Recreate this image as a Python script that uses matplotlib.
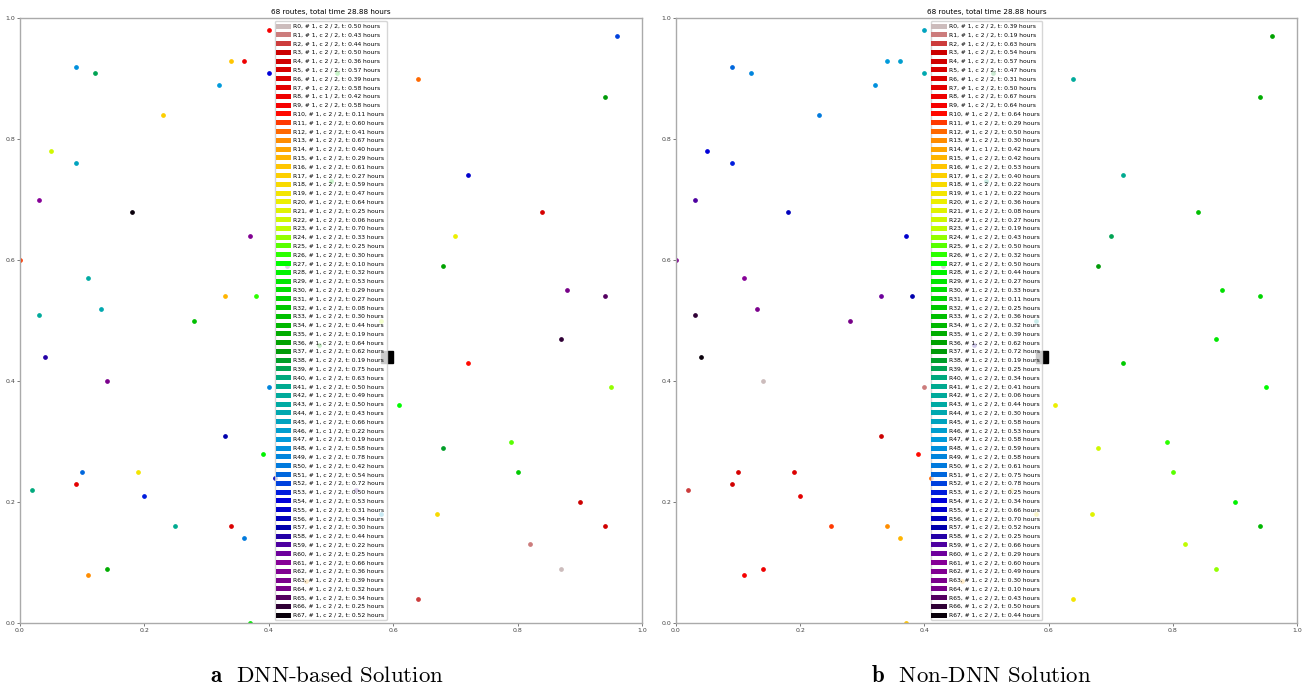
import numpy as np
import matplotlib
matplotlib.use("Agg")
import matplotlib.pyplot as plt
from matplotlib.lines import Line2D

# customer locations (same instance in both solutions)
cust_x = [0.40, 0.09, 0.12, 0.34, 0.36, 0.40, 0.32, 0.23, 0.05, 0.09,
          0.03, 0.18, 0.37, 0.00, 0.11, 0.33, 0.38, 0.03, 0.13, 0.28,
          0.04, 0.14, 0.40, 0.33, 0.39, 0.41, 0.10, 0.19, 0.09, 0.02,
          0.20, 0.25, 0.34, 0.36, 0.14, 0.11, 0.37, 0.51, 0.50, 0.43,
          0.58, 0.48, 0.54, 0.58, 0.46, 0.96, 0.64, 0.94, 0.72, 0.84,
          0.70, 0.68, 0.88, 0.94, 0.87, 0.72, 0.95, 0.61, 0.68, 0.79,
          0.80, 0.90, 0.94, 0.67, 0.82, 0.87, 0.64]
cust_y = [0.98, 0.92, 0.91, 0.93, 0.93, 0.91, 0.89, 0.84, 0.78, 0.76,
          0.70, 0.68, 0.64, 0.60, 0.57, 0.54, 0.54, 0.51, 0.52, 0.50,
          0.44, 0.40, 0.39, 0.31, 0.28, 0.24, 0.25, 0.25, 0.23, 0.22,
          0.21, 0.16, 0.16, 0.14, 0.09, 0.08, 0.00, 0.91, 0.73, 0.59,
          0.50, 0.46, 0.22, 0.18, 0.07, 0.97, 0.90, 0.87, 0.74, 0.68,
          0.64, 0.59, 0.55, 0.54, 0.47, 0.43, 0.39, 0.36, 0.29, 0.30,
          0.25, 0.20, 0.16, 0.18, 0.13, 0.09, 0.04]
depot = (0.59, 0.44)

# route index of every customer
route_dnn = [9, 48, 39, 16, 8, 54, 47, 17, 22, 45,
             61, 67, 62, 11, 43, 15, 26, 42, 44, 33,
             58, 63, 49, 57, 28, 56, 51, 19, 7, 40,
             53, 41, 6, 50, 35, 13, 29, 30, 31, 60,
             23, 34, 59, 46, 14, 52, 12, 37, 55, 5,
             20, 36, 64, 65, 66, 10, 24, 27, 38, 25,
             32, 3, 4, 18, 1, 0, 2]
route_non = [45, 51, 49, 47, 46, 44, 48, 50, 54, 53,
             59, 56, 55, 62, 61, 60, 57, 66, 63, 64,
             67, 0, 1, 3, 10, 12, 5, 6, 4, 2,
             7, 11, 13, 15, 8, 9, 16, 38, 40, 65,
             43, 58, 17, 18, 14, 36, 42, 35, 41, 33,
             39, 37, 30, 31, 29, 32, 27, 20, 22, 26,
             25, 28, 34, 21, 23, 24, 19]

# legend values
time_dnn = [0.50, 0.43, 0.44, 0.50, 0.36, 0.57, 0.39, 0.58, 0.42, 0.58,
            0.11, 0.60, 0.41, 0.67, 0.40, 0.29, 0.61, 0.27, 0.59, 0.47,
            0.64, 0.25, 0.06, 0.70, 0.33, 0.25, 0.30, 0.10, 0.32, 0.53,
            0.29, 0.27, 0.08, 0.30, 0.44, 0.19, 0.64, 0.62, 0.19, 0.75,
            0.63, 0.50, 0.49, 0.50, 0.43, 0.66, 0.22, 0.19, 0.58, 0.78,
            0.42, 0.54, 0.72, 0.50, 0.53, 0.31, 0.34, 0.30, 0.44, 0.22,
            0.25, 0.66, 0.36, 0.39, 0.32, 0.34, 0.25, 0.52]
time_non = [0.39, 0.19, 0.63, 0.54, 0.57, 0.47, 0.31, 0.50, 0.67, 0.64,
            0.64, 0.29, 0.50, 0.30, 0.42, 0.42, 0.53, 0.40, 0.22, 0.22,
            0.36, 0.08, 0.27, 0.19, 0.43, 0.50, 0.32, 0.50, 0.44, 0.27,
            0.33, 0.11, 0.25, 0.36, 0.32, 0.39, 0.62, 0.72, 0.19, 0.25,
            0.34, 0.41, 0.06, 0.44, 0.30, 0.58, 0.53, 0.58, 0.59, 0.58,
            0.61, 0.75, 0.78, 0.25, 0.34, 0.66, 0.70, 0.52, 0.25, 0.66,
            0.29, 0.60, 0.49, 0.30, 0.10, 0.43, 0.50, 0.44]
load_dnn = [2] * 68
load_dnn[8] = 1
load_dnn[46] = 1
load_non = [2] * 68
load_non[14] = 1
load_non[19] = 1

n_routes = 68
colors = plt.cm.nipy_spectral_r((np.arange(n_routes) + 0.5) / n_routes)

plt.rcParams['mathtext.fontset'] = 'cm'

fig = plt.figure(figsize=(13.05, 6.92), dpi=100)
ax1 = fig.add_axes([0.0153, 0.0997, 0.4766, 0.874])
ax2 = fig.add_axes([0.518, 0.0997, 0.4758, 0.874])


def draw(ax, routes, times, loads):
    for r in range(n_routes):
        xs = [cust_x[i] for i in range(len(routes)) if routes[i] == r]
        ys = [cust_y[i] for i in range(len(routes)) if routes[i] == r]
        ax.plot(xs, ys, 'o', color=colors[r], ms=2.4, zorder=2)
    ax.plot(depot[0], depot[1], 's', color='black', ms=9, zorder=2)

    handles = []
    for r in range(n_routes):
        lbl = f"R{r}, # 1, c {loads[r]} / 2, t: {times[r]:.2f} hours"
        handles.append(Line2D([0], [0], color=colors[r], lw=3.6, label=lbl))
    ax.legend(handles=handles, loc='center', fontsize=4.3,
              labelspacing=0.605, handlelength=1.8, borderpad=0.4,
              handletextpad=0.8, borderaxespad=0.2)

    ax.set_title("68 routes, total time 28.88 hours", fontsize=5.2, pad=3)
    ax.set_xlim(0, 1)
    ax.set_ylim(0, 1)
    ax.set_xticks(np.arange(0, 1.01, 0.2))
    ax.set_yticks(np.arange(0, 1.01, 0.2))
    ax.tick_params(labelsize=4.5, length=2, width=0.5, colors='#444444',
                   pad=1.5)
    for s in ax.spines.values():
        s.set_color('#aaaaaa')
        s.set_linewidth(1.0)


draw(ax1, route_dnn, time_dnn, load_dnn)
draw(ax2, route_non, time_non, load_non)

# sub-figure captions
fig.text(0.2506, 0.014, r"$\mathbf{a}$  DNN-based Solution", fontfamily='cmr10',
         fontsize=16.5, ha='center')
fig.text(0.7517, 0.014, r"$\mathbf{b}$  Non-DNN Solution", fontfamily='cmr10',
         fontsize=16.5, ha='center')

fig.savefig("out.png", dpi=100)
